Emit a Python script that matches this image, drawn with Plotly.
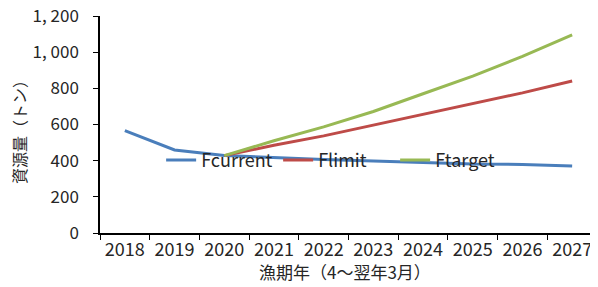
import plotly.graph_objects as go

years = ["2018", "2019", "2020", "2021", "2022", "2023", "2024", "2025", "2026", "2027"]
fcurrent = [566, 459, 428, 416, 407, 398, 390, 381, 379, 370]
flimit = [None, None, 428, 485, 537, 597, 658, 716, 775, 841]
ftarget = [None, None, 428, 510, 587, 672, 770, 868, 977, 1095]

ytick_vals = [0, 200, 400, 600, 800, 1000, 1200]
ytick_text = ["0", "200", "400", "600", "800", "1, 000", "1, 200"]

font_family = "Noto Sans CJK JP"
txt = "#262626"

fig = go.Figure()
fig.add_trace(go.Scatter(x=years, y=fcurrent, mode="lines", name="Fcurrent",
                         line=dict(color="#4A7EBB", width=3)))
fig.add_trace(go.Scatter(x=years, y=flimit, mode="lines", name="Flimit",
                         line=dict(color="#BE4B48", width=3)))
fig.add_trace(go.Scatter(x=years, y=ftarget, mode="lines", name="Ftarget",
                         line=dict(color="#98B954", width=3)))

fig.update_layout(
    width=590, height=279,
    margin=dict(l=92, r=1, t=8, b=54),
    paper_bgcolor="white", plot_bgcolor="white",
    font=dict(family=font_family, size=18, color=txt),
    showlegend=True,
    legend=dict(orientation="h", x=0.123, y=0.335, xanchor="left", yanchor="middle",
                bgcolor="rgba(0,0,0,0)", font=dict(size=18, color=txt),
                itemwidth=30, tracegroupgap=0,
                entrywidth=72, entrywidthmode="pixels"),
    xaxis=dict(type="category", range=[-0.5, 9.5], showline=True, linecolor="black", linewidth=1.5,
               ticks="outside", ticklen=5, tickcolor="black", tickson="boundaries",
               showgrid=False, zeroline=False, automargin=False, ticklabeloverflow="allow"),
    yaxis=dict(range=[0, 1200], tickvals=ytick_vals, ticktext=ytick_text,
               showline=True, linecolor="black", linewidth=1.5,
               ticks="outside", ticklen=5, tickcolor="black",
               tickfont=dict(size=17),
               showgrid=False, zeroline=False, automargin=False,
               ticklabelstandoff=11, ticklabeloverflow="allow"),
    annotations=[
        dict(text="漁期年（4～翌年3月）", xref="paper", yref="paper",
             x=(345 - 100) / 497, y=-(271 - 233) / 217, xanchor="center", yanchor="middle",
             showarrow=False, font=dict(size=17, color=txt)),
        dict(text="資源量（トン）", xref="paper", yref="paper", textangle=-90,
             x=-(100 - 19) / 497, y=(233 - 128) / 217, xanchor="center", yanchor="middle",
             showarrow=False, font=dict(size=16, color=txt)),
    ],
)

fig.write_html("out.html")
